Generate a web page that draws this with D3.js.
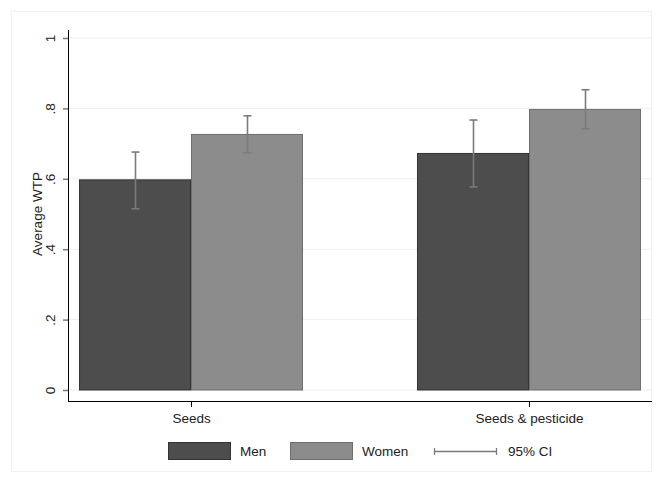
<!DOCTYPE html>
<html><head><meta charset="utf-8">
<script src="https://cdn.jsdelivr.net/npm/d3@7"></script>
<style>body{margin:0;background:#fff;}svg{display:block;font-family:"Liberation Sans",Arial,sans-serif;}</style>
</head><body>
<script>
const categories = ["Seeds", "Seeds & pesticide"];
const groups = ["Men", "Women"];
const menValues = [0.597, 0.672];
const womenValues = [0.726, 0.797];
const menLow = [0.515, 0.577];
const menHigh = [0.676, 0.767];
const womenLow = [0.674, 0.742];
const womenHigh = [0.779, 0.853];
const yTicks = [0, 0.2, 0.4, 0.6, 0.8, 1];
const yTickLabels = ["0", ".2", ".4", ".6", ".8", "1"];

const W = 663, H = 484, FS = 13.5;
const svg = d3.select("body").append("svg").attr("width", W).attr("height", H);
svg.append("rect").attr("x", 11.5).attr("y", 11.5).attr("width", 640).attr("height", 460)
  .attr("fill", "#fff").attr("stroke", "#eef2f2");

const plotL = 68, plotR = 652, plotT = 38, plotB = 390, axisY = 401;
const y = d3.scaleLinear().domain([0, 1]).range([plotB, plotT]);
const x = d3.scalePoint().domain(categories).range([plotL, plotR]).padding(0.364);
const xs = d3.scaleBand().domain(groups).range([-112, 112]).padding(0);

// grid
svg.append("g").selectAll("line").data(yTicks).join("line")
  .attr("x1", plotL + 1).attr("x2", plotR).attr("y1", d => y(d)).attr("y2", d => y(d))
  .attr("stroke", "#eaf0f0").attr("stroke-width", 1);

const rows = [];
categories.forEach((c, i) => {
  rows.push({cat: c, grp: "Men", v: menValues[i], lo: menLow[i], hi: menHigh[i]});
  rows.push({cat: c, grp: "Women", v: womenValues[i], lo: womenLow[i], hi: womenHigh[i]});
});
const fill = {Men: "#4d4d4d", Women: "#8c8c8c"};
const stroke = {Men: "#333333", Women: "#6e6e6e"};

svg.append("g").selectAll("rect").data(rows).join("rect")
  .attr("x", d => x(d.cat) + xs(d.grp) + 0.5)
  .attr("y", d => y(d.v))
  .attr("width", xs.bandwidth() - 1)
  .attr("height", d => y(0) - y(d.v))
  .attr("fill", d => fill[d.grp]).attr("stroke", d => stroke[d.grp]).attr("stroke-width", 1);

// error bars
const eb = svg.append("g").attr("stroke", "#7b7b7b").attr("stroke-width", 1.6);
rows.forEach(d => {
  const cx = Math.round(x(d.cat) + xs(d.grp) + xs.bandwidth() / 2) + 0.5;
  eb.append("line").attr("x1", cx).attr("x2", cx).attr("y1", y(d.hi)).attr("y2", y(d.lo));
  eb.append("line").attr("x1", cx - 4).attr("x2", cx + 4).attr("y1", y(d.hi)).attr("y2", y(d.hi));
  eb.append("line").attr("x1", cx - 4).attr("x2", cx + 4).attr("y1", y(d.lo)).attr("y2", y(d.lo));
});

// y axis
const yAxis = d3.axisLeft(y).tickValues(yTicks).tickFormat((d, i) => yTickLabels[i]).tickSize(5).tickSizeOuter(0);
const ga = svg.append("g").attr("transform", `translate(${plotL},0)`).call(yAxis);
ga.select(".domain").attr("d", `M0.5,${plotT - 8}V${axisY}`).attr("stroke", "#000");
ga.selectAll(".tick line").attr("stroke", "#777").attr("stroke-width", 1.5);
ga.selectAll(".tick text").attr("font-size", FS).attr("fill", "#222").attr("text-anchor", "middle")
  .attr("transform", "translate(-18,0) rotate(-90)").attr("x", 0).attr("y", 0).attr("dy", "0.35em");

// x axis
const xAxis = d3.axisBottom(x).tickSize(6).tickSizeOuter(0);
const gx = svg.append("g").attr("transform", `translate(0,${axisY})`).call(xAxis);
gx.select(".domain").attr("d", `M${plotL},0.5H${plotR}`).attr("stroke", "#000");
gx.selectAll(".tick line").attr("stroke", "#000");
gx.selectAll(".tick text").attr("font-size", FS).attr("fill", "#222").attr("y", 22).attr("dy", 0);

// y title
svg.append("text").attr("transform", `translate(42,214) rotate(-90)`).attr("text-anchor", "middle")
  .attr("font-size", FS).attr("fill", "#222").text("Average WTP");

// legend
const lg = svg.append("g");
const legendItems = [
  {label: "Men", x0: 168}, {label: "Women", x0: 290}
];
legendItems.forEach(it => {
  lg.append("rect").attr("x", it.x0 + 0.5).attr("y", 442.5).attr("width", 62).attr("height", 17)
    .attr("fill", fill[it.label]).attr("stroke", stroke[it.label]);
  lg.append("text").attr("x", it.x0 + 72).attr("y", 451).attr("dy", "0.35em").attr("font-size", FS).attr("fill", "#222").text(it.label);
});
lg.append("line").attr("x1", 434).attr("x2", 497).attr("y1", 451.5).attr("y2", 451.5).attr("stroke", "#7b7b7b").attr("stroke-width", 1.3);
lg.append("line").attr("x1", 434.5).attr("x2", 434.5).attr("y1", 448).attr("y2", 455).attr("stroke", "#7b7b7b").attr("stroke-width", 1.3);
lg.append("line").attr("x1", 496.5).attr("x2", 496.5).attr("y1", 448).attr("y2", 455).attr("stroke", "#7b7b7b").attr("stroke-width", 1.3);
lg.append("text").attr("x", 508).attr("y", 451).attr("dy", "0.35em").attr("font-size", FS).attr("fill", "#222").text("95% CI");
</script>
</body></html>
